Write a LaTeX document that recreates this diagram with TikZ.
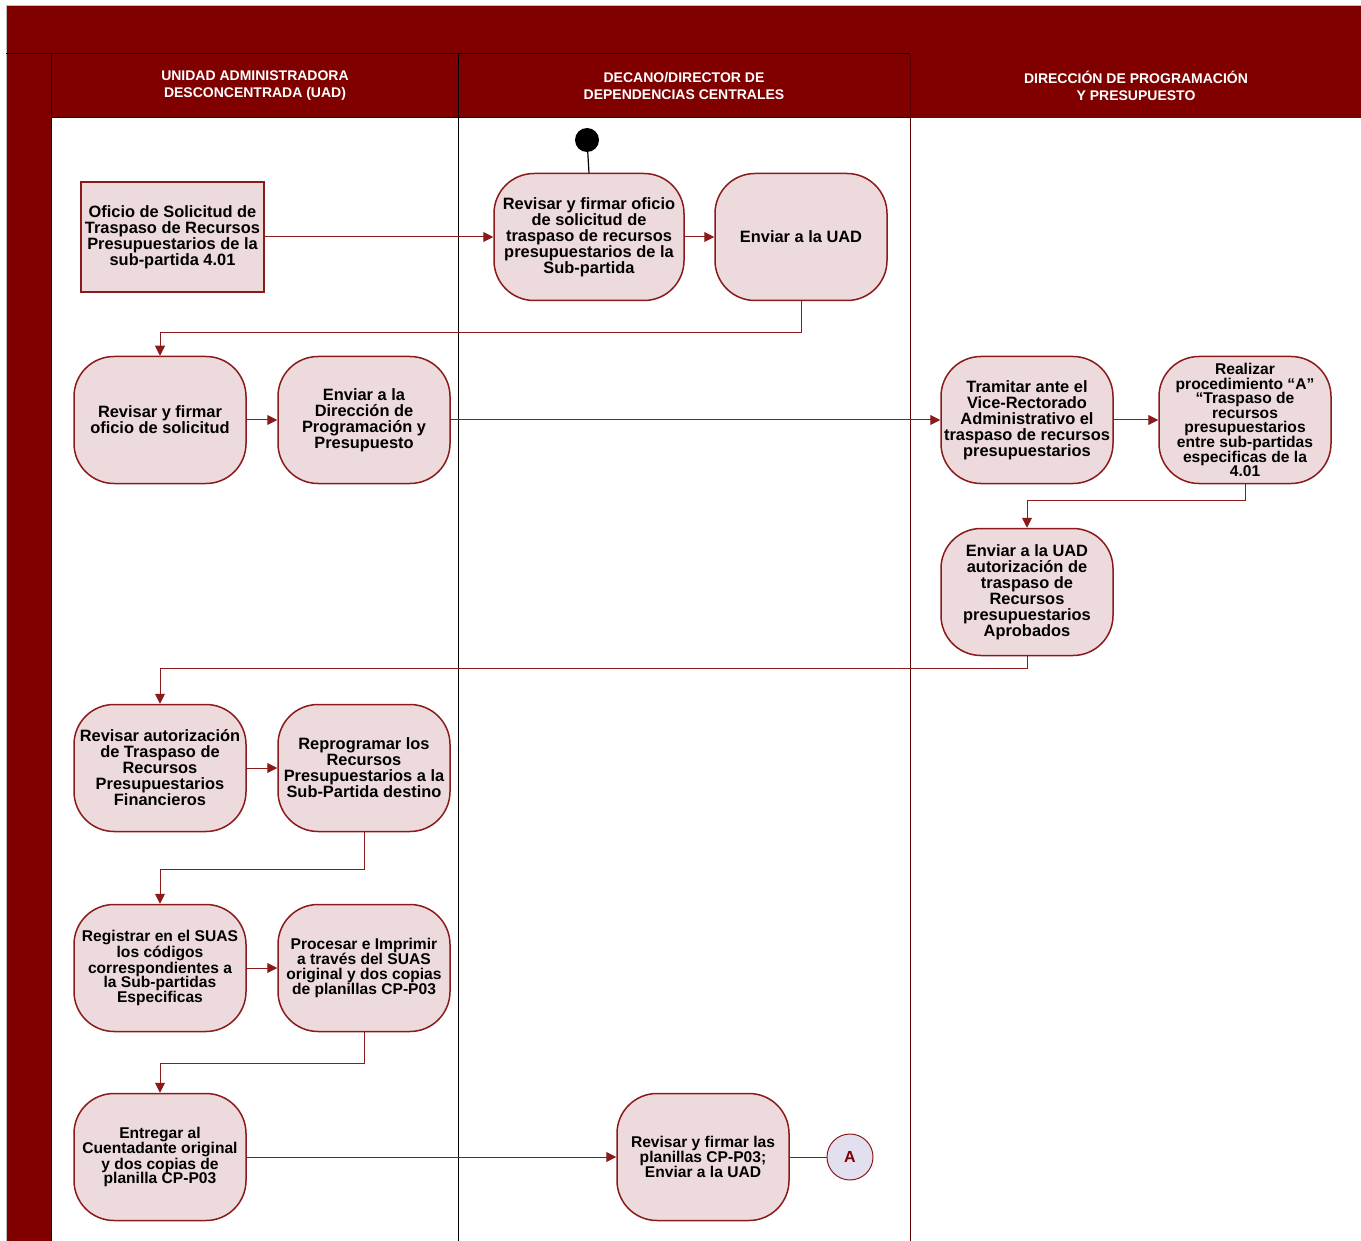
\documentclass[tikz,border=0pt]{standalone}
\usepackage{fontspec}
\setmainfont{Liberation Sans}
\usepackage{xcolor}
\usepackage{tikz}
\usetikzlibrary{arrows.meta,positioning,calc}

\definecolor{lanered}{HTML}{800000}
\definecolor{edgered}{HTML}{8B1A1A}
\definecolor{actfill}{HTML}{EDDADC}
\definecolor{confill}{HTML}{E2E0EE}

\begin{document}
\begin{tikzpicture}[
  x=1pt,y=-1pt,
  act/.style={draw=edgered,line width=1.5pt,fill=actfill,rounded corners=40pt,
    minimum width=172pt,minimum height=127pt,inner sep=0pt,align=center,
    font=\fontsize{16.4}{16}\selectfont\bfseries},
  tight/.style={font=\fontsize{15.6}{14.6}\selectfont\bfseries},
  docbox/.style={draw=edgered,line width=1.5pt,fill=actfill,
    minimum width=183pt,minimum height=110pt,inner sep=0pt,align=center,
    font=\fontsize{16.4}{16}\selectfont\bfseries},
  lane/.style={text=white,align=center,font=\fontsize{14}{17}\selectfont\bfseries},
  flow/.style={-{Triangle[length=10pt,width=10pt]},draw=edgered,line width=1pt},
  conn/.style={circle,draw=edgered,line width=1pt,fill=confill,minimum size=46pt,
    inner sep=0pt,text=lanered,font=\fontsize{16}{16}\selectfont\bfseries}
]
\useasboundingbox (0,0) rectangle (1361,1241);

% swimlane frame
\fill[lanered] (6,5) rectangle (1361,54);
\fill[lanered] (6,54) rectangle (51,1241);
\fill[lanered] (51,54) rectangle (1361,118);
\draw[gray!50] (6,1241) -- (6,5) -- (1361,5);
\draw[black,line width=1pt] (6,54) -- (910,54);
\draw[black,line width=1pt] (51,118) -- (910,118);
\draw[black,line width=1pt] (51,54) -- (51,1241);
\draw[black,line width=1pt] (458,54) -- (458,1241);
\draw[lanered!70!black,line width=1pt] (910,54) -- (910,1241);

\node[lane] (hUAD) at (255,86) {UNIDAD ADMINISTRADORA\\DESCONCENTRADA (UAD)};
\node[lane] (hDec) at (684,86) {DECANO/DIRECTOR DE\\DEPENDENCIAS CENTRALES};
\node[lane] (hDir) at (1136,86) {DIRECCIÓN DE PROGRAMACIÓN\\Y PRESUPUESTO};

% activities
\node[docbox] (oficio) at (172.5,237)
  {Oficio de Solicitud de\\Traspaso de Recursos\\Presupuestarios de la\\sub-partida 4.01};
\node[act,minimum width=190pt] (revOficio) at (589,237)
  {Revisar y firmar oficio\\de solicitud de\\traspaso de recursos\\presupuestarios de la\\Sub-partida};
\node[act] (enviarUAD) at (801,237) {Enviar a la UAD};
\node[act] (revSolic) at (160,420) {Revisar y firmar\\oficio de solicitud};
\node[act] (enviarDir) at (364,420)
  {Enviar a la\\Dirección de\\Programación y\\Presupuesto};
\node[act] (tramitar) at (1027,420)
  {Tramitar ante el\\Vice-Rectorado\\Administrativo el\\traspaso de recursos\\presupuestarios};
\node[act,tight] (realizar) at (1245,420)
  {Realizar\\procedimiento “A”\\“Traspaso de\\recursos\\presupuestarios\\entre sub-partidas\\especificas de la\\4.01};
\node[act] (enviarAut) at (1027,592)
  {Enviar a la UAD\\autorización de\\traspaso de\\Recursos\\presupuestarios\\Aprobados};
\node[act] (revAut) at (160,768)
  {Revisar autorización\\de Traspaso de\\Recursos\\Presupuestarios\\Financieros};
\node[act] (reprog) at (364,768)
  {Reprogramar los\\Recursos\\Presupuestarios a la\\Sub-Partida destino};
\node[act,tight] (registrar) at (160,968)
  {Registrar en el SUAS\\los códigos\\correspondientes a\\la Sub-partidas\\Especificas};
\node[act,tight] (procesar) at (364,968)
  {Procesar e Imprimir\\a través del SUAS\\original y dos copias\\de planillas CP-P03};
\node[act,tight] (entregar) at (160,1157)
  {Entregar al\\Cuentadante original\\y dos copias de\\planilla CP-P03};
\node[act,tight] (revPlan) at (703,1157)
  {Revisar y firmar las\\planillas CP-P03;\\Enviar a la UAD};
\node[conn] (conA) at (850,1157) {A};
\node[circle,fill=black,minimum size=24pt,inner sep=0pt] (start) at (587,140) {};

% connectors
\draw[black,line width=1.2pt] (start) -- (revOficio.north);
\draw[flow] (oficio) -- (revOficio);
\draw[flow] (revOficio) -- (enviarUAD);
\draw[flow] (enviarUAD.south) -- ++(0,31) -| (revSolic.north);
\draw[flow] (revSolic) -- (enviarDir);
\draw[flow] (enviarDir) -- (tramitar);
\draw[flow] (tramitar) -- (realizar);
\draw[flow] (realizar.south) -- ++(0,16) -| (enviarAut.north);
\draw[flow] (enviarAut.south) -- ++(0,12) -| (revAut.north);
\draw[flow] (revAut) -- (reprog);
\draw[flow] (reprog.south) -- ++(0,37) -| (registrar.north);
\draw[flow] (registrar) -- (procesar);
\draw[flow] (procesar.south) -- ++(0,31) -| (entregar.north);
\draw[flow] (entregar) -- (revPlan);
\draw[draw=edgered,line width=1pt] (revPlan) -- (conA);
\end{tikzpicture}
\end{document}
